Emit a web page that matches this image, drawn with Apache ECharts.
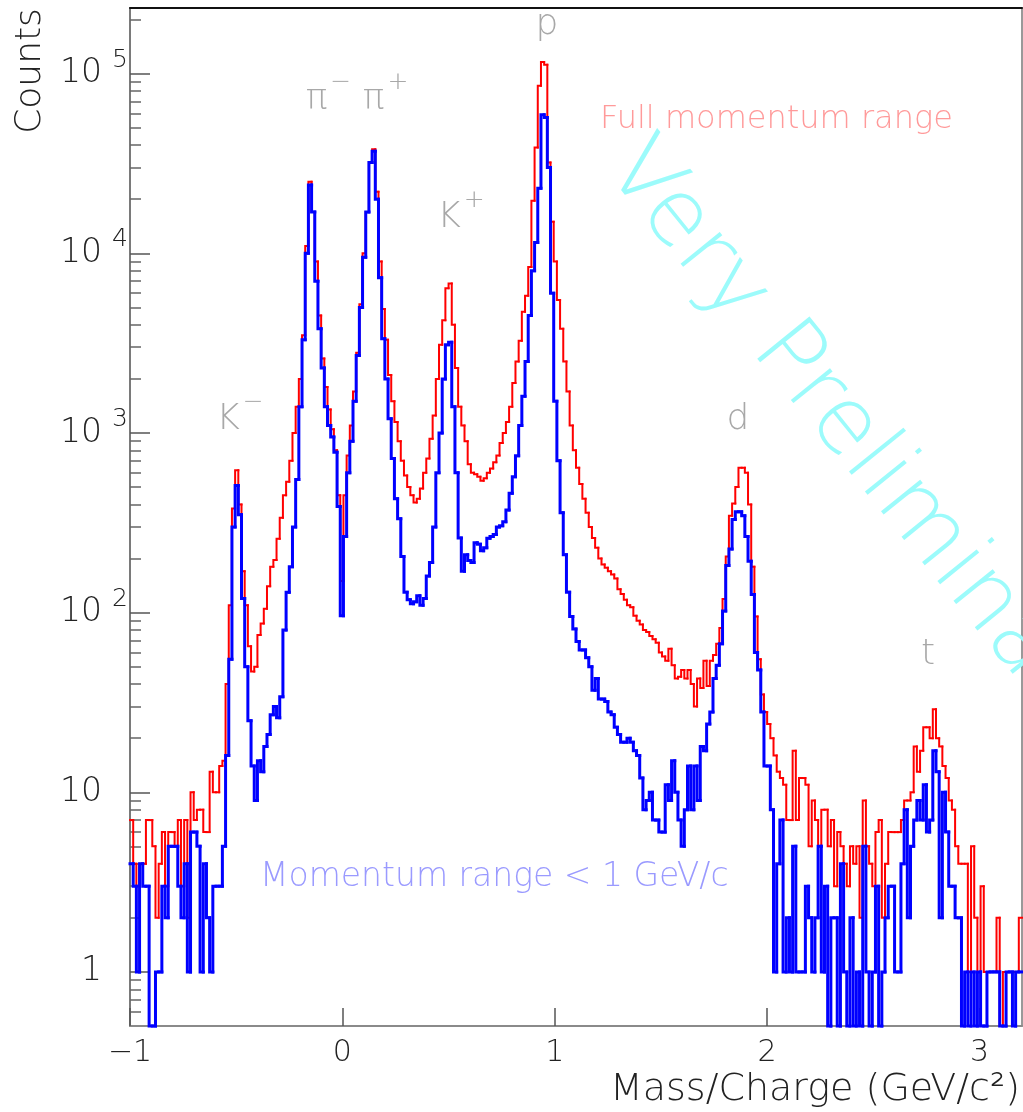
<!DOCTYPE html>
<html>
<head>
<meta charset="utf-8">
<script src="https://cdn.jsdelivr.net/npm/echarts@6/dist/echarts.min.js"></script>
<style>
  html, body { margin: 0; padding: 0; background: #ffffff; }
  #chart { width: 1023px; height: 1112px; }
</style>
</head>
<body>
<div id="chart"></div>
<script>
// Histogram binning: 280 bins of 0.015 GeV/c^2 starting at -1
const binStart = -1.0;
const binWidth = 0.015;

// Counts per bin, full momentum range
const fullRange = [
  7,4,3,4,4,7,7,5,2,4,
  6,3,6,6,5,7,3,7,2,10,
  7,8,8,6,6,13,10,10,14,15,
  40,110,380,620,400,170,110,65,47,50,
  75,87,105,140,180,196,258,337,450,535,
  700,1000,1400,2000,3500,11000,25000,17000,9000,4500,
  2600,1800,1350,1050,800,450,150,450,750,1100,
  1700,2800,5200,10000,17000,32000,38000,22000,9000,4900,
  3300,2100,1500,1150,900,700,580,500,450,410,
  430,490,600,720,930,1250,2000,3100,4240,6400,
  6800,4000,2300,1400,1100,900,670,600,590,570,
  542,560,600,634,686,750,880,1000,1150,1400,
  1900,2500,3260,4730,5800,8400,19600,38800,85700,116000,
  112000,32000,15000,9000,5500,3800,2500,1700,1100,800,
  640,520,430,360,300,260,230,200,185,178,
  170,163,155,135,127,118,110,107,96,90,
  86,80,78,74,71,68,60,57,54,63,
  51,43,44,48,43,48,40,30,43,38,
  54,39,54,58,67,82,119,205,346,405,
  500,640,640,600,400,180,95,55,35,28,
  24,20,16,13,12,11,7,7,17,7,
  12,12,11,5,9,7,5,8,8,5,
  7,3,6,5,4,3,5,4,5,2,
  9,5,4,3,6,7,2,4,6,6,
  6,6,7,9,9,10,18,13,17,23,
  23,20,29,20,18,14,12,9,8,5,
  4,4,4,1,5,2,1,3,1,1,
  1,1,2,0,1,1,1,1,1,2
];

// Counts per bin, momentum below 1 GeV/c
const lowMomentum = [
  4,3,1,4,3,3,0,0,1,1,
  3,2,5,5,5,3,2,4,1,6,
  6,5,1,4,2,1,3,3,3,5,
  16,55,300,510,350,120,50,25,14,9,
  15,13,18,21,27,30,26,34,80,130,
  180,300,550,1400,3300,10000,24000,17000,7000,3800,
  2300,1400,1100,950,780,390,96,265,600,900,
  1500,2700,5000,9500,17000,32000,37000,20000,7300,3350,
  2000,1200,720,430,333,205,130,118,112,115,
  124,110,120,160,190,300,600,1000,2000,3100,
  3200,1400,600,260,170,210,195,190,245,240,
  221,230,259,265,272,300,304,320,373,462,
  570,747,1100,1600,2500,4500,8000,11500,23000,59000,
  57000,30000,6000,1500,700,360,210,130,95,81,
  69,62,62,56,50,37,43,33,33,32,
  28,27,23,21,19,19,20,19,17,16,
  12,8,9,10,7,7,6,6,11,9,
  15,10,7,5,8,14,8,14,9,18,
  17,24,28,43,51,67,102,183,226,330,
  364,364,346,265,193,126,60,48,28,14,
  14,8,1,4,7,1,2,1,5,1,
  1,1,3,2,1,2,5,1,3,0,
  2,2,0,4,1,0,2,0,1,0,
  5,1,0,1,3,0,1,2,3,3,
  1,1,4,8,2,5,7,9,7,11,
  6,7,17,13,2,10,6,3,3,2,
  2,0,1,0,1,0,1,0,0,1,
  1,1,1,0,0,1,1,0,1,1
];

// Axis ranges and tick positions
const xRange = [-1, 3.2];
const yRange = [0.5, 232000];
const xTicks = [-1, 0, 1, 2, 3];
const yMajorTicks = [1, 10, 100, 1000, 10000, 100000];
const yMinorTicks = [
  0.6, 0.7, 0.8, 0.9,
  2, 3, 4, 5, 6, 7, 8, 9,
  20, 30, 40, 50, 60, 70, 80, 90,
  200, 300, 400, 500, 600, 700, 800, 900,
  2000, 3000, 4000, 5000, 6000, 7000, 8000, 9000,
  20000, 30000, 40000, 50000, 60000, 70000, 80000, 90000,
  200000
];
const superscripts = { 100: '2', 1000: '3', 10000: '4', 100000: '5' };

const FONT = '"DejaVu Sans", "Noto Sans", sans-serif';
const THIN = 200;
const INK = '#222222';
const TAG = '#a8a8a8';

// Each bin becomes [lowEdge, highEdge, count, previousCount]
function histItems(counts) {
  return counts.map(function (c, i) {
    return [binStart + i * binWidth, binStart + (i + 1) * binWidth, c, i > 0 ? counts[i - 1] : c];
  });
}

// Draws one bin of a step histogram: riser from the previous level, then the bin top.
// Empty bins drop to the bottom of the log axis.
function stepRenderer(color, width) {
  return function (params, api) {
    const lo = api.value(0), hi = api.value(1);
    const cur = Math.max(api.value(2), yRange[0]);
    const prev = Math.max(api.value(3), yRange[0]);
    const a = api.coord([lo, prev]);
    const b = api.coord([lo, cur]);
    const c = api.coord([hi, cur]);
    return {
      type: 'polyline',
      silent: true,
      shape: { points: [a, b, c] },
      style: { stroke: color, lineWidth: width, fill: null, lineCap: 'square', lineJoin: 'miter' }
    };
  };
}

// Particle tag with a raised charge sign
const tagRich = {
  t: { fontSize: 36, fontFamily: FONT, fontWeight: THIN, fill: TAG, lineHeight: 60, verticalAlign: 'middle' },
  s: { fontSize: 25, fontFamily: FONT, fontWeight: THIN, fill: TAG, lineHeight: 26, verticalAlign: 'top', padding: [0, 0, 0, 3] }
};
function tag(text, x, y) {
  return {
    type: 'text', x: x, y: y, silent: true,
    style: { text: text, rich: tagRich, fontSize: 36, fontFamily: FONT, fontWeight: THIN, fill: TAG, align: 'center', verticalAlign: 'middle' }
  };
}

const chart = echarts.init(document.getElementById('chart'), null, { renderer: 'canvas' });

const labelRich = {
  b: { fontSize: 33, fontFamily: FONT, fontWeight: THIN, color: INK, lineHeight: 52, verticalAlign: 'middle' },
  s: { fontSize: 25, fontFamily: FONT, fontWeight: THIN, color: INK, lineHeight: 25, verticalAlign: 'top', padding: [0, 0, 0, 10] },
  g: { width: 26, lineHeight: 52 }
};

chart.setOption({
  animation: false,
  backgroundColor: '#ffffff',
  grid: { left: 130, right: 1, top: 8, bottom: 86, show: false },
  xAxis: [
    {
      type: 'value', min: xRange[0], max: xRange[1], interval: 1, position: 'bottom',
      axisLine: { show: true, onZero: false, lineStyle: { color: '#8a8a8a', width: 2 } },
      axisTick: { show: true, inside: true, length: 18, lineStyle: { color: '#555', width: 1.5 }, customValues: xTicks },
      axisLabel: {
        show: true, margin: 12, customValues: xTicks,
        fontSize: 30, fontFamily: FONT, fontWeight: THIN, color: INK,
        formatter: function (v) { return v < 0 ? '\u2212' + Math.abs(v) : String(v); }
      },
      splitLine: { show: false }
    },
    {
      type: 'value', min: xRange[0], max: xRange[1], position: 'top',
      axisLine: { show: true, onZero: false, lineStyle: { color: '#111', width: 2 } },
      axisTick: { show: false }, axisLabel: { show: false }, splitLine: { show: false }
    }
  ],
  yAxis: [
    {
      type: 'log', logBase: 10, min: yRange[0], max: yRange[1], position: 'left',
      axisLine: { show: true, onZero: false, lineStyle: { color: '#7a7a7a', width: 2 } },
      axisTick: { show: true, inside: true, length: 20, lineStyle: { color: '#555', width: 1.5 }, customValues: yMajorTicks },
      axisLabel: {
        show: true, margin: 2, customValues: yMajorTicks, align: 'right',
        fontSize: 33, fontFamily: FONT, fontWeight: THIN, color: INK,
        rich: labelRich,
        formatter: function (v) {
          const r = Math.round(v);
          if (superscripts[r]) return '{b|10}{s|' + superscripts[r] + '}';
          if (r === 10) return '{b|10}{g|}';
          if (r === 1) return '{b|1}{g|}';
          return '';
        }
      },
      splitLine: { show: false }
    },
    {
      type: 'log', logBase: 10, min: yRange[0], max: yRange[1], position: 'left',
      axisLine: { show: false, onZero: false },
      axisTick: { show: true, inside: true, length: 11, lineStyle: { color: '#666', width: 1.5 }, customValues: yMinorTicks },
      axisLabel: { show: false }, splitLine: { show: false }
    },
    {
      type: 'log', logBase: 10, min: yRange[0], max: yRange[1], position: 'right',
      axisLine: { show: true, onZero: false, lineStyle: { color: '#999', width: 2 } },
      axisTick: { show: false }, axisLabel: { show: false }, splitLine: { show: false }
    }
  ],
  series: [
    {
      name: 'Full momentum range', type: 'custom', coordinateSystem: 'cartesian2d',
      xAxisIndex: 0, yAxisIndex: 0, z: 3,
      encode: { x: [0, 1], y: 2 },
      data: histItems(fullRange),
      renderItem: stepRenderer('#ff0000', 2)
    },
    {
      name: 'Momentum range < 1 GeV/c', type: 'custom', coordinateSystem: 'cartesian2d',
      xAxisIndex: 0, yAxisIndex: 0, z: 4,
      encode: { x: [0, 1], y: 2 },
      data: histItems(lowMomentum),
      renderItem: stepRenderer('#0000ff', 3)
    }
  ],
  graphic: [
    {
      type: 'text', x: 586, y: 182, rotation: -51 * Math.PI / 180, z: 1, silent: true,
      style: { text: 'Very Preliminary', fontSize: 92, fontFamily: FONT, fontWeight: THIN, fill: '#9cfbfb', align: 'left', verticalAlign: 'bottom' }
    },
    {
      type: 'text', x: 31, y: 71, rotation: Math.PI / 2, silent: true,
      style: { text: 'Counts', fontSize: 36, fontFamily: FONT, fontWeight: THIN, fill: INK, align: 'center', verticalAlign: 'middle' }
    },
    {
      type: 'text', x: 1020, y: 1090, silent: true,
      style: { text: 'Mass/Charge (GeV/c\u00b2)', fontSize: 38, fontFamily: FONT, fontWeight: THIN, fill: INK, align: 'right', verticalAlign: 'middle' }
    },
    {
      type: 'text', x: 600, y: 120, silent: true,
      style: { text: 'Full momentum range', fontSize: 32, fontFamily: FONT, fontWeight: THIN, fill: '#ff9a9a', align: 'left', verticalAlign: 'middle' }
    },
    {
      type: 'text', x: 260, y: 877, silent: true,
      style: { text: 'Momentum range < 1 GeV/c', fontSize: 33, fontFamily: FONT, fontWeight: THIN, fill: '#9a9aff', align: 'left', verticalAlign: 'middle' }
    },
    tag('{t|K}{s|\u2212}', 240, 420),
    tag('{t|\u03c0}{s|\u2212} {t|\u03c0}{s|+}', 357, 100),
    tag('{t|K}{s|+}', 461, 218),
    tag('{t|p}', 547, 25),
    tag('{t|d}', 738, 420),
    tag('{t|t}', 928, 655)
  ]
});
</script>
</body>
</html>
